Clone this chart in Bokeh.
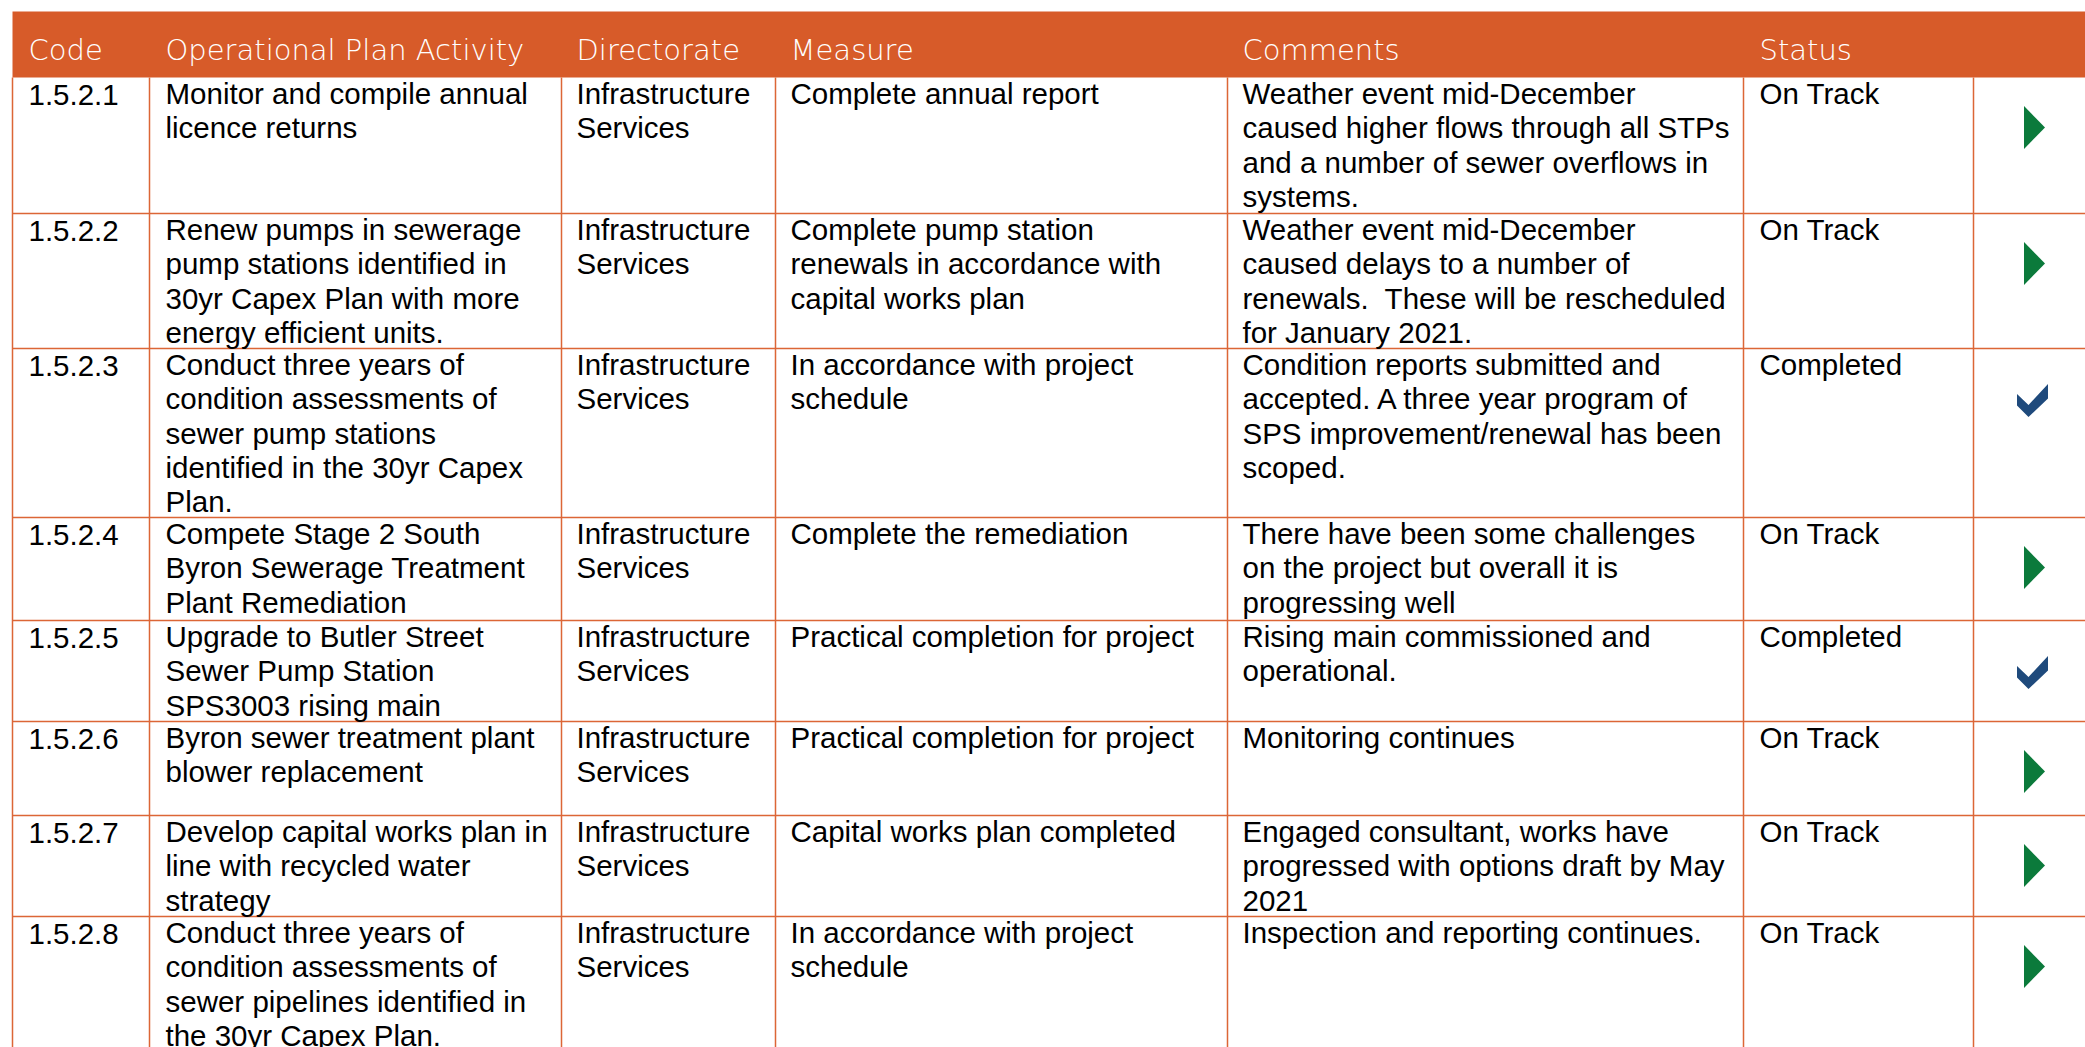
from bokeh.plotting import figure
from bokeh.models import ColumnDataSource, Range1d
from bokeh.core.properties import value
from bokeh.embed import file_html
from bokeh.resources import INLINE

# ---------------- data ----------------
headers = ["Code", "Operational Plan Activity", "Directorate", "Measure", "Comments", "Status"]

codes = ["1.5.2.1", "1.5.2.2", "1.5.2.3", "1.5.2.4", "1.5.2.5", "1.5.2.6", "1.5.2.7", "1.5.2.8"]

activities = [
    "Monitor and compile annual\nlicence returns",
    "Renew pumps in sewerage\npump stations identified in\n30yr Capex Plan with more\nenergy efficient units.",
    "Conduct three years of\ncondition assessments of\nsewer pump stations\nidentified in the 30yr Capex\nPlan.",
    "Compete Stage 2 South\nByron Sewerage Treatment\nPlant Remediation",
    "Upgrade to Butler Street\nSewer Pump Station\nSPS3003 rising main",
    "Byron sewer treatment plant\nblower replacement",
    "Develop capital works plan in\nline with recycled water\nstrategy",
    "Conduct three years of\ncondition assessments of\nsewer pipelines identified in\nthe 30yr Capex Plan.",
]

directorates = ["Infrastructure\nServices"] * 8

measures = [
    "Complete annual report",
    "Complete pump station\nrenewals in accordance with\ncapital works plan",
    "In accordance with project\nschedule",
    "Complete the remediation",
    "Practical completion for project",
    "Practical completion for project",
    "Capital works plan completed",
    "In accordance with project\nschedule",
]

comments = [
    "Weather event mid-December\ncaused higher flows through all STPs\nand a number of sewer overflows in\nsystems.",
    "Weather event mid-December\ncaused delays to a number of\nrenewals.\u00a0 These will be rescheduled\nfor January 2021.",
    "Condition reports submitted and\naccepted. A three year program of\nSPS improvement/renewal has been\nscoped.",
    "There have been some challenges\non the project but overall it is\nprogressing well",
    "Rising main commissioned and\noperational.",
    "Monitoring continues",
    "Engaged consultant, works have\nprogressed with options draft by May\n2021",
    "Inspection and reporting continues.",
]

statuses = ["On Track", "On Track", "Completed", "On Track", "Completed", "On Track", "On Track", "On Track"]

# ---------------- layout (page pixel coordinates) ----------------
W, H = 2085, 1047
X0, Y0 = 0, 0
TABLE_LEFT = 12
TABLE_RIGHT = 2110
HEADER_TOP, HEADER_BOTTOM = 11, 77
col_lines = [149, 561, 775, 1227, 1743, 1973]
col_text_x = [28, 165, 576, 790, 1242, 1759]
row_tops = [77, 213, 348, 517, 620, 721, 815, 916]
TABLE_BOTTOM = 1100
icon_x = 2034

ORANGE = "#D75B29"
LINE = "#DC6636"
GREEN = "#0B7A3B"
BLUE = "#1F4A7C"
BODY_FONT = value("Liberation Sans")
BODY_SIZE = "29.5px"

p = figure(width=W, height=H, output_backend="svg", toolbar_location=None,
           x_range=Range1d(X0, X0 + W), y_range=Range1d(Y0 + H, Y0),
           min_border=0, background_fill_color="white", border_fill_color="white")
p.axis.visible = False
p.grid.visible = False
p.outline_line_color = None

# header band
p.quad(left=[TABLE_LEFT], right=[TABLE_RIGHT], top=[HEADER_TOP], bottom=[HEADER_BOTTOM],
       fill_color=ORANGE, line_color=None)

# grid lines
hx0 = [TABLE_LEFT] * len(row_tops[1:])
p.segment(x0=hx0, x1=[TABLE_RIGHT] * len(hx0), y0=row_tops[1:], y1=row_tops[1:],
          line_color=LINE, line_width=1.5)
vx = [TABLE_LEFT] + col_lines
p.segment(x0=vx, x1=vx, y0=[HEADER_BOTTOM] * len(vx), y1=[TABLE_BOTTOM] * len(vx),
          line_color=LINE, line_width=1.5)

# header text
p.text(x=col_text_x, y=[49.5] * len(headers), text=headers,
       text_font=value("DejaVu Sans Light, DejaVu Sans"), text_font_size="29px", text_color="white",
       text_baseline="middle", text_align="left")

# body text (multi-line columns)
xs, ys, ts = [], [], []
columns = [activities, directorates, measures, comments, statuses]
for ci, col in enumerate(columns):
    for ri, t in enumerate(col):
        xs.append(col_text_x[ci + 1])
        ys.append(row_tops[ri] - 0.5)
        ts.append(t)
src = ColumnDataSource(dict(x=xs, y=ys, text=ts))
p.text(x="x", y="y", text="text", source=src,
       text_font=BODY_FONT, text_font_size=BODY_SIZE, text_color="#000000",
       text_baseline="top", text_align="left", text_line_height=1.04)

# code column
code_src = ColumnDataSource(dict(x=[col_text_x[0]] * len(codes),
                                 y=[t + 7.5 for t in row_tops[:len(codes)]], text=codes))
p.text(x="x", y="y", text="text", source=code_src,
       text_font=BODY_FONT, text_font_size=BODY_SIZE, text_color="#000000",
       text_baseline="top", text_align="left", text_line_height=1.04)

# status icons
tri_xs, tri_ys, chk_xs, chk_ys = [], [], [], []
tri_shape = [(-10.5, -21.5), (10.5, 0), (-10.5, 21.5)]
chk_shape = [(-15.5, -6.5), (-4, 4.5), (15.5, -16.5), (15.5, -2), (-4, 16.5), (-15.5, 5)]
for ri, s in enumerate(statuses):
    if s == "Completed":
        cy = row_tops[ri] + 52
        chk_xs.append([icon_x - 2 + dx for dx, dy in chk_shape])
        chk_ys.append([cy + dy for dx, dy in chk_shape])
    else:
        cy = row_tops[ri] + 50
        tri_xs.append([icon_x + dx for dx, dy in tri_shape])
        tri_ys.append([cy + dy for dx, dy in tri_shape])
p.patches(xs=tri_xs, ys=tri_ys, fill_color=GREEN, line_color=None)
p.patches(xs=chk_xs, ys=chk_ys, fill_color=BLUE, line_color=None)

open("out.html", "w").write(file_html(p, INLINE))
